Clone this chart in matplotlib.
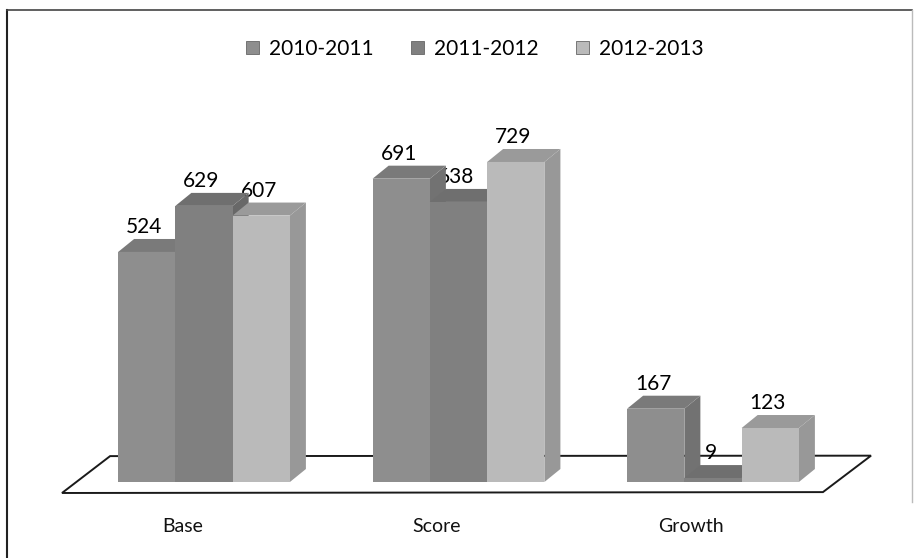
import matplotlib
matplotlib.use("Agg")
import matplotlib.pyplot as plt
from matplotlib.patches import Polygon, Patch
from matplotlib.lines import Line2D

categories = ["Base", "Score", "Growth"]
series_names = ["2010-2011", "2011-2012", "2012-2013"]
v_2010_2011 = [524, 691, 167]
v_2011_2012 = [629, 638, 9]
v_2012_2013 = [607, 729, 123]
series_values = [v_2010_2011, v_2011_2012, v_2012_2013]

front_cols = ["#8e8e8e", "#808080", "#bababa"]
top_cols = ["#7a7a7a", "#6f6f6f", "#9a9a9a"]
side_cols = ["#727272", "#686868", "#989898"]

plt.rcParams['font.family'] = ['Lato', 'DejaVu Sans']

fig = plt.figure(figsize=(9.17, 5.58), dpi=100)
ax = fig.add_axes([0, 0, 1, 1])
ax.set_xlim(-0.8016, 2.8016)
ax.set_ylim(-173.1, 1098)
ax.axis('off')

W = 0.225        # bar width
DX = 0.0629      # depth offset x
DY = 29.6        # depth offset y (value units)

# floor
floor = Polygon([(-0.558, -25), (-0.369, 59), (2.621, 60), (2.432, -23)],
                closed=True, facecolor='white', edgecolor='#1a1a1a', lw=1.4, zorder=1)
ax.add_patch(floor)

z = 3
for gi, cat in enumerate(categories):
    for si in range(3):
        v = series_values[si][gi]
        xc = gi + (si - 1) * W
        x0, x1 = xc - W / 2, xc + W / 2
        side = Polygon([(x1, 0), (x1 + DX, DY), (x1 + DX, v + DY), (x1, v)],
                       closed=True, facecolor=side_cols[si], edgecolor='none', zorder=z)
        top = Polygon([(x0, v), (x0 + DX, v + DY), (x1 + DX, v + DY), (x1, v)],
                      closed=True, facecolor=top_cols[si], edgecolor='none', zorder=z + 0.1)
        ax.add_patch(side)
        ax.add_patch(top)
        ax.bar(xc, v, width=W, color=front_cols[si], edgecolor='none', zorder=z + 0.2)
        ax.text(xc - 0.01, v + 57, str(v), ha='center', va='center', fontsize=15,
                color='#000000', zorder=2)
        z += 1
    ax.text(gi - 0.085, -102, cat, ha='center', va='center', fontsize=14, color='#111111')

handles = [Patch(facecolor=front_cols[i], edgecolor='#666666', lw=0.6) for i in range(3)]
fig.legend(handles, series_names, loc='center', bbox_to_anchor=(0.518, 1 - 49 / 558),
           ncol=3, frameon=False, fontsize=15, handlelength=0.6, handleheight=0.6,
           handletextpad=0.5, columnspacing=1.8)

# outer border (left and top visible)
fig.add_artist(Line2D([7 / 917, 7 / 917], [0.0, 1 - 10 / 558], color='#222222', lw=1.5))
fig.add_artist(Line2D([7 / 917, 912 / 917], [1 - 10 / 558, 1 - 10 / 558], color='#444444', lw=1.2))
fig.add_artist(Line2D([912 / 917, 912 / 917], [0.1, 1 - 10 / 558], color='#bbbbbb', lw=1.0))

fig.savefig("out.png", dpi=100)
